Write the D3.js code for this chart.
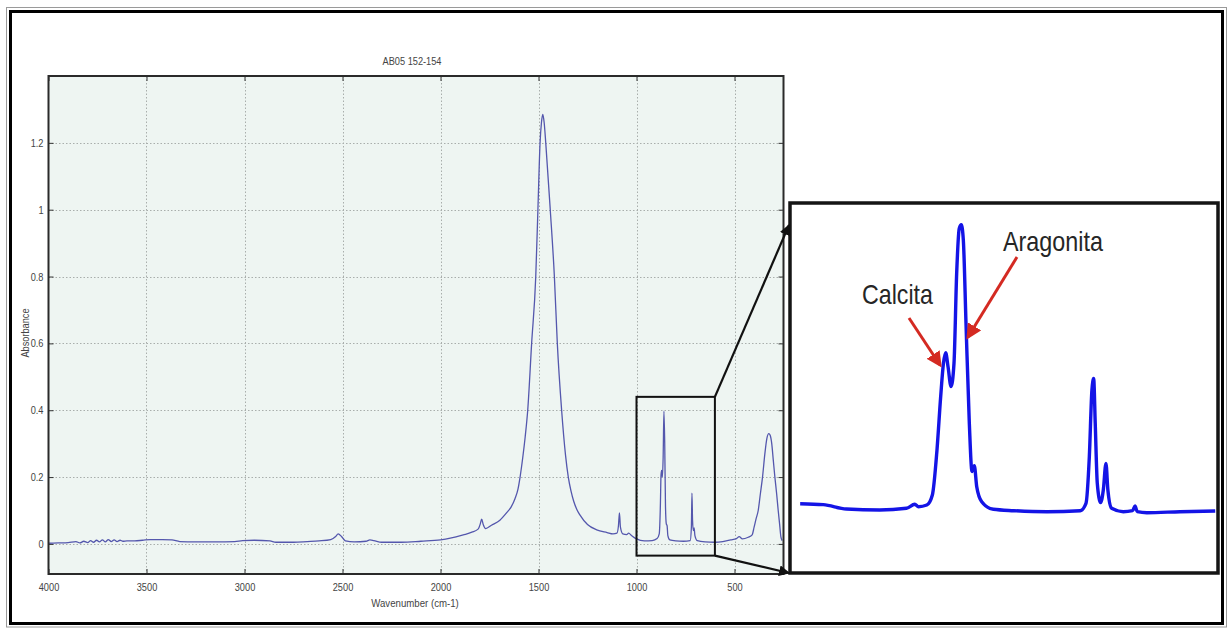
<!DOCTYPE html>
<html>
<head>
<meta charset="utf-8">
<script src="https://cdn.jsdelivr.net/npm/d3@7"></script>
<style>
  html, body { margin: 0; padding: 0; background: #ffffff; }
  svg { display: block; }
  text { font-family: "Liberation Sans", Arial, sans-serif; }
</style>
</head>
<body>
<svg id="chart" width="1229" height="628"></svg>
<script>
// ---------------- DATA ----------------
const chartTitle = "AB05 152-154";
const xAxisLabel = "Wavenumber (cm-1)";
const yAxisLabel = "Absorbance";

const xTicks = [4000, 3500, 3000, 2500, 2000, 1500, 1000, 500];
const yTicks = [0, 0.2, 0.4, 0.6, 0.8, 1, 1.2];
const yTickLabels = ["0", "0.2", "0.4", "0.6", "0.8", "1", "1.2"];

// main FTIR spectrum (wavenumber cm-1, absorbance)
const wavenumber = [
  4000, 3950, 3900, 3860, 3840, 3820, 3800, 3785, 3770, 3755, 3740, 3725, 3710, 3695, 3680, 3665,
  3650, 3635, 3620, 3600, 3560, 3520, 3480, 3420, 3370, 3330, 3250, 3150, 3050, 3010, 2950, 2870,
  2840, 2750, 2680, 2620, 2560, 2535, 2522, 2505, 2485, 2440, 2380, 2360, 2340, 2300, 2200, 2100,
  2000, 1950, 1884, 1840, 1807, 1797, 1790, 1782, 1770, 1740, 1697, 1660, 1640, 1620, 1605, 1594,
  1580, 1568, 1555, 1535, 1514, 1503, 1492, 1485, 1478, 1471, 1463, 1440, 1419, 1404, 1382, 1362,
  1348, 1334, 1320, 1305, 1288, 1250, 1203, 1150, 1120, 1100, 1092, 1087, 1082, 1070, 1050, 1040,
  1025, 1000, 960, 920, 895, 884, 878, 875, 872, 868, 864, 860, 856, 852, 848, 844,
  840, 830, 800, 760, 726, 720, 717, 714, 710, 706, 702, 690, 650, 600, 560, 520,
  490, 476, 460, 430, 410, 400, 390, 379, 368, 357, 345, 335, 325, 318, 310, 302,
  294, 285, 277, 270, 263, 257
];
const absorbance = [
  0.002, 0.003, 0.004, 0.007, 0.003, 0.008, 0.004, 0.010, 0.005, 0.011, 0.006, 0.012, 0.006, 0.013, 0.007, 0.012,
  0.007, 0.011, 0.008, 0.009, 0.009, 0.011, 0.013, 0.013, 0.012, 0.007, 0.006, 0.006, 0.007, 0.010, 0.011, 0.009,
  0.005, 0.005, 0.007, 0.009, 0.013, 0.022, 0.030, 0.022, 0.009, 0.006, 0.008, 0.012, 0.010, 0.005, 0.005, 0.008,
  0.012, 0.017, 0.027, 0.035, 0.045, 0.060, 0.074, 0.058, 0.046, 0.056, 0.071, 0.095, 0.110, 0.135, 0.163, 0.200,
  0.260, 0.320, 0.400, 0.600, 0.800, 1.000, 1.200, 1.260, 1.285, 1.260, 1.200, 1.000, 0.800, 0.600, 0.400, 0.265,
  0.200, 0.158, 0.127, 0.104, 0.086, 0.058, 0.042, 0.034, 0.030, 0.032, 0.055, 0.093, 0.050, 0.030, 0.028, 0.032,
  0.025, 0.015, 0.009, 0.010, 0.016, 0.030, 0.120, 0.205, 0.220, 0.200, 0.260, 0.397, 0.300, 0.110, 0.060, 0.055,
  0.025, 0.012, 0.009, 0.008, 0.010, 0.050, 0.152, 0.070, 0.040, 0.048, 0.025, 0.010, 0.006, 0.005, 0.007, 0.012,
  0.016, 0.022, 0.015, 0.020, 0.027, 0.050, 0.075, 0.100, 0.150, 0.200, 0.270, 0.315, 0.330, 0.325, 0.300, 0.250,
  0.200, 0.150, 0.100, 0.060, 0.020, 0.010
];

// zoomed region box on the main plot
const zoomBoxWavenumber = [1000, 600];
const zoomBoxAbsorbance = [-0.035, 0.44];

// inset (zoomed) spectrum, 1040-580 cm-1
const insetWavenumber = [
  1030, 1005, 980, 944, 915, 906, 902, 893, 887, 882, 878, 875, 872.6, 870, 866.8, 863.6,
  860.7, 857.9, 855.7, 853.5, 850.6, 847, 844.1, 841.6, 839, 833.6, 821, 799, 763, 727,
  720.8, 717.2, 714.4, 712.5, 710.8, 708.6, 705, 702.1, 699.2, 697.1, 693.1, 680.5, 670.4, 667.8,
  665.3, 655, 619, 581
];
const insetAbsorbance = [
  0.0155, 0.0142, 0.0082, 0.0068, 0.0092, 0.0147, 0.0114, 0.0137, 0.0275, 0.0895, 0.163, 0.209, 0.2235, 0.204, 0.177, 0.209,
  0.333, 0.395, 0.400, 0.379, 0.264, 0.126, 0.060, 0.068, 0.039, 0.0183, 0.0078, 0.0059, 0.0045, 0.0059,
  0.016, 0.080, 0.172, 0.188, 0.126, 0.044, 0.017, 0.034, 0.071, 0.034, 0.0092, 0.0045, 0.0059, 0.0124,
  0.0045, 0.0031, 0.0045, 0.0055
];
const insetLabels = ["Calcita", "Aragonita"];

// ---------------- DRAW ----------------
const svg = d3.select("#chart");
const NARROW = 0.84; // horizontal squeeze to imitate a condensed font

// outer double frame
svg.append("rect").attr("x", 6.5).attr("y", 7.5).attr("width", 1220).attr("height", 619.5)
  .attr("fill", "none").attr("stroke", "#9a9a9a").attr("stroke-width", 1);
svg.append("rect").attr("x", 10.5).attr("y", 11.5).attr("width", 1212).attr("height", 612)
  .attr("fill", "#ffffff").attr("stroke", "#000").attr("stroke-width", 3);

const plot = { left: 48.5, right: 783.5, top: 76, bottom: 574 };

const x = d3.scaleLinear().domain([4000, 250]).range([plot.left, plot.right]);
const y = d3.scaleLinear().domain([-0.09, 1.4]).range([plot.bottom, plot.top]);

// background
svg.append("rect").attr("x", plot.left).attr("y", plot.top)
  .attr("width", plot.right - plot.left).attr("height", plot.bottom - plot.top)
  .attr("fill", "#eef5f2");

// grid
const grid = svg.append("g").attr("stroke", "#a9aeac").attr("stroke-width", 1).attr("stroke-dasharray", "1.5,2");
grid.selectAll(".gx").data(xTicks.filter(d => d !== 4000)).join("line")
  .attr("x1", d => Math.round(x(d)) + 0.5).attr("x2", d => Math.round(x(d)) + 0.5)
  .attr("y1", plot.top).attr("y2", plot.bottom);
grid.selectAll(".gy").data(yTicks).join("line")
  .attr("y1", d => Math.round(y(d)) + 0.5).attr("y2", d => Math.round(y(d)) + 0.5)
  .attr("x1", plot.left).attr("x2", plot.right);

// axes with inward ticks (MATLAB style)
const xAxisB = d3.axisBottom(x).tickValues(xTicks).tickSize(-5).tickPadding(9).tickFormat(d3.format("d"));
const gxb = svg.append("g").attr("transform", `translate(0,${plot.bottom})`).call(xAxisB);
const xAxisT = d3.axisTop(x).tickValues(xTicks).tickSize(-5).tickFormat("");
const gxt = svg.append("g").attr("transform", `translate(0,${plot.top})`).call(xAxisT);
const yAxisL = d3.axisLeft(y).tickValues(yTicks).tickSize(-5).tickPadding(5)
  .tickFormat((d, i) => yTickLabels[i]);
const gyl = svg.append("g").attr("transform", `translate(${plot.left},0)`).call(yAxisL);
const yAxisR = d3.axisRight(y).tickValues(yTicks).tickSize(-5).tickFormat("");
const gyr = svg.append("g").attr("transform", `translate(${plot.right},0)`).call(yAxisR);

[gxb, gxt, gyl, gyr].forEach(g => {
  g.select(".domain").remove();
  g.selectAll(".tick line").attr("stroke", "#333").attr("stroke-width", 1);
  g.selectAll("text").attr("font-size", "11px").attr("fill", "#444");
});
// squeeze tick labels horizontally
gxb.selectAll(".tick text").attr("transform", `scale(${NARROW},1)`);
gyl.selectAll(".tick text").attr("x", -5 / NARROW).attr("transform", `scale(${NARROW},1)`);

// spectrum
const line = d3.line().x((d, i) => x(wavenumber[i])).y((d, i) => y(absorbance[i])).curve(d3.curveMonotoneX);
svg.append("path").datum(absorbance).attr("d", line)
  .attr("fill", "none").attr("stroke", "#5457ad").attr("stroke-width", 1.3).attr("stroke-linejoin", "round");

// plot frame
svg.append("rect").attr("x", plot.left).attr("y", plot.top)
  .attr("width", plot.right - plot.left).attr("height", plot.bottom - plot.top)
  .attr("fill", "none").attr("stroke", "#2a2a2a").attr("stroke-width", 2);

// title and labels (condensed by horizontal scaling)
function narrowText(cx, cy, rot, size, str) {
  return svg.append("text")
    .attr("transform", `translate(${cx},${cy}) rotate(${rot}) scale(${NARROW},1)`)
    .attr("text-anchor", "middle").attr("font-size", size).attr("fill", "#444").text(str);
}
narrowText(412, 65, 0, "11px", chartTitle);
narrowText(415, 607, 0, "11.5px", xAxisLabel);
narrowText(29, 333, -90, "11px", yAxisLabel);

// zoom box on the main plot
const bx0 = x(zoomBoxWavenumber[0]), bx1 = x(zoomBoxWavenumber[1]);
const by0 = y(zoomBoxAbsorbance[1]), by1 = y(zoomBoxAbsorbance[0]);
svg.append("rect").attr("x", bx0).attr("y", by0).attr("width", bx1 - bx0).attr("height", by1 - by0)
  .attr("fill", "none").attr("stroke", "#111").attr("stroke-width", 2);

// arrow markers
const defs = svg.append("defs");
defs.append("marker").attr("id", "blackHead").attr("viewBox", "0 0 10 10").attr("refX", 9).attr("refY", 5)
  .attr("markerWidth", 5).attr("markerHeight", 5).attr("orient", "auto-start-reverse")
  .append("path").attr("d", "M0,0 L10,5 L0,10 z").attr("fill", "#111");
defs.append("marker").attr("id", "redHead").attr("viewBox", "0 0 10 10").attr("refX", 8).attr("refY", 5)
  .attr("markerWidth", 5.2).attr("markerHeight", 5.2).attr("orient", "auto-start-reverse")
  .append("path").attr("d", "M0,0 L10,5 L0,10 z").attr("fill", "#d42a22");

// inset
const inset = { left: 790, right: 1218, top: 203, bottom: 573 };
const ix = d3.scaleLinear().domain([1041, 578]).range([inset.left, inset.right]);
const iy = d3.scaleLinear().domain([-0.08, 0.43]).range([inset.bottom, inset.top]);

svg.append("rect").attr("x", inset.left).attr("y", inset.top)
  .attr("width", inset.right - inset.left).attr("height", inset.bottom - inset.top)
  .attr("fill", "#ffffff").attr("stroke", "#151515").attr("stroke-width", 3.5);

defs.append("clipPath").attr("id", "insetClip").append("rect")
  .attr("x", inset.left + 2).attr("y", inset.top + 2)
  .attr("width", inset.right - inset.left - 4).attr("height", inset.bottom - inset.top - 4);

const insetLine = d3.line().x((d, i) => ix(insetWavenumber[i])).y((d, i) => iy(insetAbsorbance[i]))
  .curve(d3.curveMonotoneX);
svg.append("path").datum(insetAbsorbance).attr("d", insetLine).attr("clip-path", "url(#insetClip)")
  .attr("fill", "none").attr("stroke", "#1414e6").attr("stroke-width", 3.4).attr("stroke-linejoin", "round");

// connector lines from box to inset
svg.append("line").attr("x1", bx1).attr("y1", by0).attr("x2", inset.left - 1).attr("y2", 225)
  .attr("stroke", "#111").attr("stroke-width", 2.2).attr("marker-end", "url(#blackHead)");
svg.append("line").attr("x1", bx1).attr("y1", by1).attr("x2", inset.left - 1).attr("y2", inset.bottom)
  .attr("stroke", "#111").attr("stroke-width", 2.2).attr("marker-end", "url(#blackHead)");

// inset annotations
svg.append("text").attr("x", 862).attr("y", 304).attr("font-size", "28px").attr("fill", "#262626")
  .attr("textLength", 71).attr("lengthAdjust", "spacingAndGlyphs").text(insetLabels[0]);
svg.append("text").attr("x", 1003).attr("y", 251).attr("font-size", "28px").attr("fill", "#262626")
  .attr("textLength", 100).attr("lengthAdjust", "spacingAndGlyphs").text(insetLabels[1]);

svg.append("line").attr("x1", 909).attr("y1", 318).attr("x2", 940).attr("y2", 365)
  .attr("stroke", "#d42a22").attr("stroke-width", 3).attr("marker-end", "url(#redHead)");
svg.append("line").attr("x1", 1017).attr("y1", 257).attr("x2", 968).attr("y2", 337)
  .attr("stroke", "#d42a22").attr("stroke-width", 3).attr("marker-end", "url(#redHead)");
</script>
</body>
</html>
